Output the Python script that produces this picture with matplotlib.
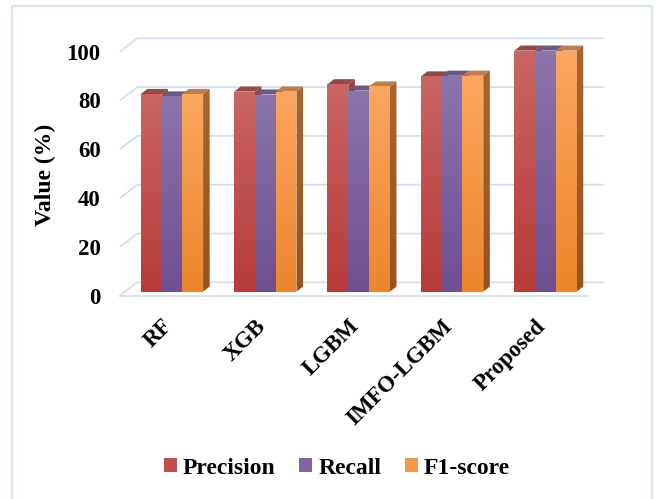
import numpy as np
import matplotlib
matplotlib.use("Agg")
import matplotlib.pyplot as plt
from matplotlib.patches import Polygon, Rectangle, Patch
from matplotlib.colors import LinearSegmentedColormap

# ---- data ----
models = ["RF", "XGB", "LGBM", "IMFO-LGBM", "Proposed"]
precision = [81.0, 82.0, 85.0, 88.2, 98.8]
recall = [80.0, 80.8, 82.4, 88.5, 98.8]
f1_score = [81.0, 82.0, 84.1, 88.5, 98.8]
series_names = ["Precision", "Recall", "F1-score"]
y_ticks = [0, 20, 40, 60, 80, 100]

# ---- styling ----
plt.rcParams["font.family"] = ["Liberation Serif", "DejaVu Serif"]
FONT = dict(fontweight="bold", fontsize=16.5, color="black")
GRID = "#d3dff1"
# (front top, front bottom, top face, side top, side bottom)
STYLES = [
    ("#c96664", "#b63a38", "#9c4644", "#9a4240", "#8a3432"),
    ("#8c75ab", "#6e4f91", "#6c5886", "#65508a", "#553f78"),
    ("#fca660", "#eb862c", "#c67c44", "#a8652f", "#95541f"),
]
LEGEND_COLORS = ["#c0504d", "#8064a2", "#f79646"]

W, H = 657, 499
fig = plt.figure(figsize=(W / 100, H / 100), dpi=100)

# front plane geometry in pixels
px_x0, px_per_cat = 120.0, 93.4
px_y0, px_per_val = 295.7, 2.44
xlim = (-0.9, 4.9)
ylim = (-10, 110)
left = px_x0 + (xlim[0] + 0.5) * px_per_cat
right = px_x0 + (xlim[1] + 0.5) * px_per_cat
bottom = px_y0 - ylim[0] * px_per_val
top = px_y0 - ylim[1] * px_per_val
ax = fig.add_axes([left / W, 1 - bottom / H, (right - left) / W, (bottom - top) / H])
ax.set_xlim(xlim)
ax.set_ylim(ylim)
ax.axis("off")

# depth vector of the 3-D box (data units)
DX = 17.3 / px_per_cat
DY = 13.4 / px_per_val
T_FRONT, T_BACK = 0.3, 0.68
BW = 20.8 / px_per_cat

# back wall gridlines with left-wall diagonals
for v in y_ticks:
    ax.plot([-0.5, -0.5 + DX, 4.5 + DX], [v, v + DY, v + DY],
            color=GRID, lw=1.3, zorder=1, solid_capstyle="butt")
ax.plot([-0.5, 4.5], [0, 0], color=GRID, lw=1.3, zorder=1)


def gradient_face(poly, c_top, c_bot, zorder):
    patch = Polygon(poly, closed=True, facecolor="none", edgecolor="none")
    ax.add_patch(patch)
    xs = [p[0] for p in poly]
    ys = [p[1] for p in poly]
    cmap = LinearSegmentedColormap.from_list("g", [c_bot, c_top])
    grad = np.linspace(1, 0, 256).reshape(-1, 1)
    im = ax.imshow(grad, cmap=cmap, vmin=0, vmax=1, origin="upper",
                   extent=(min(xs), max(xs), min(ys), max(ys)),
                   aspect="auto", interpolation="bilinear", zorder=zorder)
    im.set_clip_path(patch)


series = [precision, recall, f1_score]
ddx = (T_BACK - T_FRONT) * DX
ddy = (T_BACK - T_FRONT) * DY
for i in range(len(models)):
    for j, vals in enumerate(series):
        h = vals[i]
        ftop, fbot, ctop, stop, sbot = STYLES[j]
        x0 = i - 1.5 * BW + j * BW + T_FRONT * DX
        y0 = T_FRONT * DY
        yt = h + y0
        z = 3 + i * 10 + j * 3
        # top face
        ax.add_patch(Polygon([(x0, yt), (x0 + BW, yt), (x0 + BW + ddx, yt + ddy),
                              (x0 + ddx, yt + ddy)], closed=True,
                             facecolor=ctop, edgecolor="none", zorder=z))
        # side face
        gradient_face([(x0 + BW, y0), (x0 + BW, yt), (x0 + BW + ddx, yt + ddy),
                       (x0 + BW + ddx, y0 + ddy)], stop, sbot, z + 1)
        # front face
        gradient_face([(x0, y0), (x0 + BW, y0), (x0 + BW, yt), (x0, yt)],
                      ftop, fbot, z + 2)

ax.set_xlim(xlim)
ax.set_ylim(ylim)

# y tick labels on the front plane
x_lab = (100.7 - px_x0) / px_per_cat - 0.5
for v in y_ticks:
    ax.text(x_lab, v, f"{v}", ha="right", va="center_baseline", **FONT)

# category labels
y_cat = (px_y0 - 315.5) / px_per_val
x_shift = 4.5 / px_per_cat
for i, name in enumerate(models):
    ax.text(i + T_FRONT * DX + x_shift, y_cat, name, rotation=45, ha="right",
            va="top", rotation_mode="default", **FONT)

fig.text(45 / W, 1 - 175 / H, "Value (%)", rotation=90, ha="center", va="center",
         fontweight="bold", fontsize=17)

handles = [Patch(facecolor=c, edgecolor="none") for c in LEGEND_COLORS]
fig.legend(handles, series_names, loc="center", bbox_to_anchor=(337 / W, 1 - 468 / H),
           ncol=3, frameon=False, prop=dict(weight="bold", size=17),
           handlelength=0.55, handleheight=0.55, handletextpad=0.25,
           columnspacing=1.0, borderaxespad=0)

# outer chart frame
fig.add_artist(Rectangle((12 / W, -0.02), (651.5 - 12) / W, 1 - 6 / H + 0.02,
                         transform=fig.transFigure, fill=False,
                         edgecolor="#d9e3f2", lw=1.6))

fig.savefig("out.png", dpi=100)
